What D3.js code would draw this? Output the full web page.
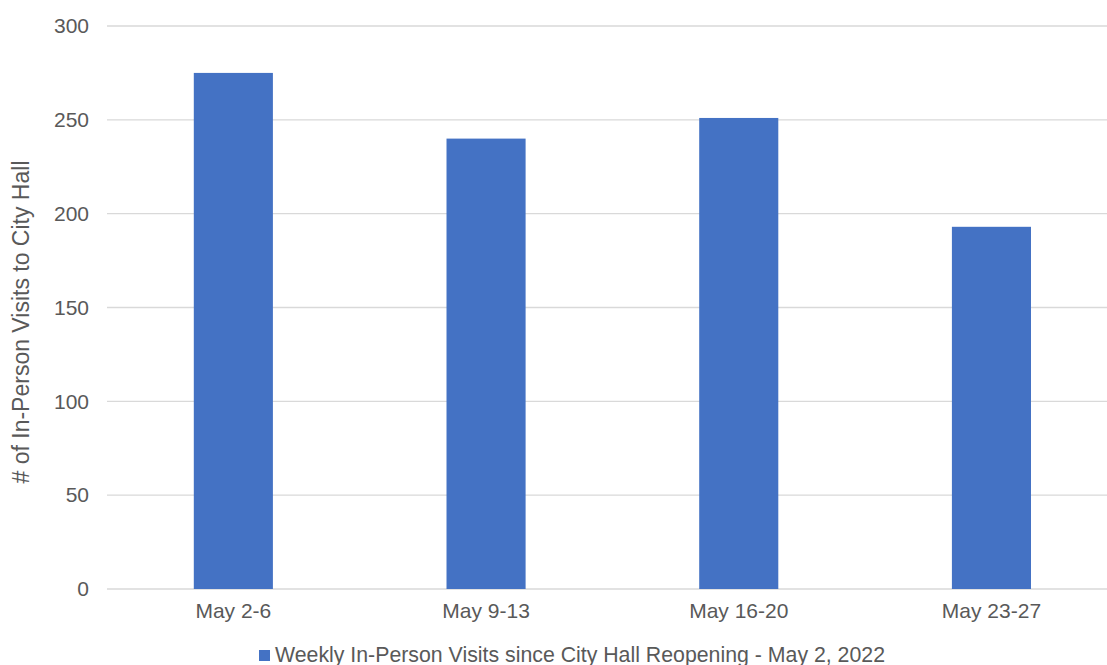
<!DOCTYPE html>
<html>
<head>
<meta charset="utf-8">
<script src="https://cdn.jsdelivr.net/npm/d3@7"></script>
<style>
	body { margin: 0; background: #fff; }
	svg { display: block; font-family: "Liberation Sans", Arial, sans-serif; }
</style>
</head>
<body>
<svg width="1107" height="665"></svg>
<script>
var weeks = ["May 2-6", "May 9-13", "May 16-20", "May 23-27"];
var visits = [275, 240, 251, 193];
var yTicks = [0, 50, 100, 150, 200, 250, 300];
var seriesName = "Weekly In-Person Visits since City Hall Reopening - May 2, 2022";
var yTitle = "# of In-Person Visits to City Hall";

var svg = d3.select("svg");

var plotLeft = 107,
	plotTop = 26,
	plotBottom = 589,
	step = 252.7;

var x = d3.scaleBand()
	.domain(weeks)
	.range([plotLeft, plotLeft + step * weeks.length])
	.paddingInner(0.687)
	.paddingOuter(0.3435);

var y = d3.scaleLinear()
	.domain([0, 300])
	.range([plotBottom, plotTop]);

// gridlines
svg.append("g")
	.selectAll("line")
	.data(yTicks)
	.enter()
	.append("line")
	.attr("x1", plotLeft)
	.attr("x2", 1107)
	.attr("y1", function(d){ return y(d); })
	.attr("y2", function(d){ return y(d); })
	.attr("stroke", "#d9d9d9")
	.attr("stroke-width", 1.3);

// y tick labels
var yAxis = svg.append("g")
	.attr("transform", "translate(" + (plotLeft - 18) + ",0)")
	.call(d3.axisLeft(y).tickValues(yTicks).tickSize(0).tickPadding(0));
yAxis.select(".domain").remove();
yAxis.selectAll("text")
	.attr("fill", "#595959")
	.style("font-size", "21px")
	.style("font-family", "Liberation Sans, Arial, sans-serif");

// bars
svg.append("g")
	.selectAll("rect")
	.data(visits)
	.enter()
	.append("rect")
	.attr("x", function(d, i){ return x(weeks[i]); })
	.attr("width", x.bandwidth())
	.attr("y", function(d){ return y(d); })
	.attr("height", function(d){ return y(0) - y(d); })
	.attr("fill", "#4472c4");

// x labels
var xAxis = svg.append("g")
	.attr("transform", "translate(0," + plotBottom + ")")
	.call(d3.axisBottom(x).tickSize(0).tickPadding(14));
xAxis.select(".domain").remove();
xAxis.selectAll("text")
	.attr("fill", "#595959")
	.style("font-size", "21px")
	.style("font-family", "Liberation Sans, Arial, sans-serif");

// y title
svg.append("text")
	.attr("transform", "translate(29,322) rotate(-90)")
	.attr("text-anchor", "middle")
	.attr("fill", "#595959")
	.style("font-size", "23px")
	.text(yTitle);

// legend
var legend = svg.append("g")
	.attr("transform", "translate(259,655)");
legend.append("rect")
	.attr("x", 0)
	.attr("y", -5)
	.attr("width", 11)
	.attr("height", 11)
	.attr("fill", "#4472c4");
legend.append("text")
	.attr("x", 16)
	.attr("y", 6.5)
	.attr("fill", "#595959")
	.style("font-size", "21.3px")
	.text(seriesName);
</script>
</body>
</html>
